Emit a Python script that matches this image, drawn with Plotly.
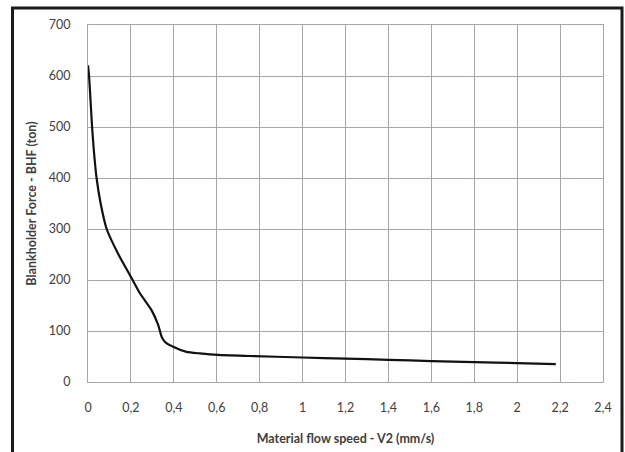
import plotly.graph_objects as go

speed = [0.0, 0.005, 0.012, 0.019, 0.028, 0.040, 0.059, 0.087, 0.142, 0.203, 0.242, 0.296, 0.327, 0.343,
         0.358, 0.397, 0.459, 0.521, 0.606, 0.753, 1.0, 1.2, 1.4, 1.6, 1.8, 2.0, 2.18]
force = [621, 600, 550, 500, 450, 400, 350, 300, 250, 204, 174, 141, 112, 89,
         79, 69, 59, 56, 53, 51, 48, 46, 43.5, 41, 39, 37, 35]

x_ticks = [0, 0.2, 0.4, 0.6, 0.8, 1.0, 1.2, 1.4, 1.6, 1.8, 2.0, 2.2, 2.4]
x_labels = ["0", "0,2", "0,4", "0,6", "0,8", "1", "1,2", "1,4", "1,6", "1,8", "2", "2,2", "2,4"]
y_ticks = [0, 100, 200, 300, 400, 500, 600, 700]

fig = go.Figure()
fig.add_trace(go.Scatter(x=speed, y=force, mode="lines",
                         line=dict(color="#111111", width=2.2, shape="spline", smoothing=0.5),
                         showlegend=False, hoverinfo="skip"))

grid = "#aaa5a5"
font_fam = "Lato, Open Sans, sans-serif"
fig.update_layout(
    width=625, height=452,
    margin=dict(l=88, r=22, t=25, b=70),
    paper_bgcolor="white", plot_bgcolor="white",
    font=dict(family=font_fam, size=12.5, color="#404040"),
    xaxis=dict(range=[0, 2.4], tickvals=x_ticks, ticktext=x_labels, automargin=False,
               showgrid=True, gridcolor=grid, gridwidth=1,
               showline=True, linecolor=grid, mirror=True, zeroline=False,
               ticks="", ticklabelstandoff=14,
               title=dict(text="<b>Material flow speed - V2 (mm/s)</b>", font=dict(size=12.5, color="#404040"),
                          standoff=20)),
    yaxis=dict(range=[0, 700], tickvals=y_ticks, automargin=False,
               showgrid=True, gridcolor=grid, gridwidth=1,
               showline=True, linecolor=grid, mirror=True, zeroline=False,
               ticks="", ticklabelstandoff=14,
               title=dict(text="<b>Blankholder Force - BHF (ton)</b>", font=dict(size=12.5, color="#404040"),
                          standoff=9)),
)

# outer frame (open at the bottom, as in the cropped original)
fx0, fx1 = (12.5 - 88) / 515, (622 - 88) / 515
fy0, fy1 = (382 - 470) / 357, (382 - 8) / 357
frame = dict(color="#1a1a1a", width=3)
fig.add_shape(type="path", xref="paper", yref="paper",
              path=f"M {fx0},{fy0} L {fx0},{fy1} L {fx1},{fy1} L {fx1},{fy0}", line=frame)

fig.write_html("out.html", config={"displayModeBar": False},
               post_script="document.body.style.margin='0';document.body.style.overflow='hidden';")
